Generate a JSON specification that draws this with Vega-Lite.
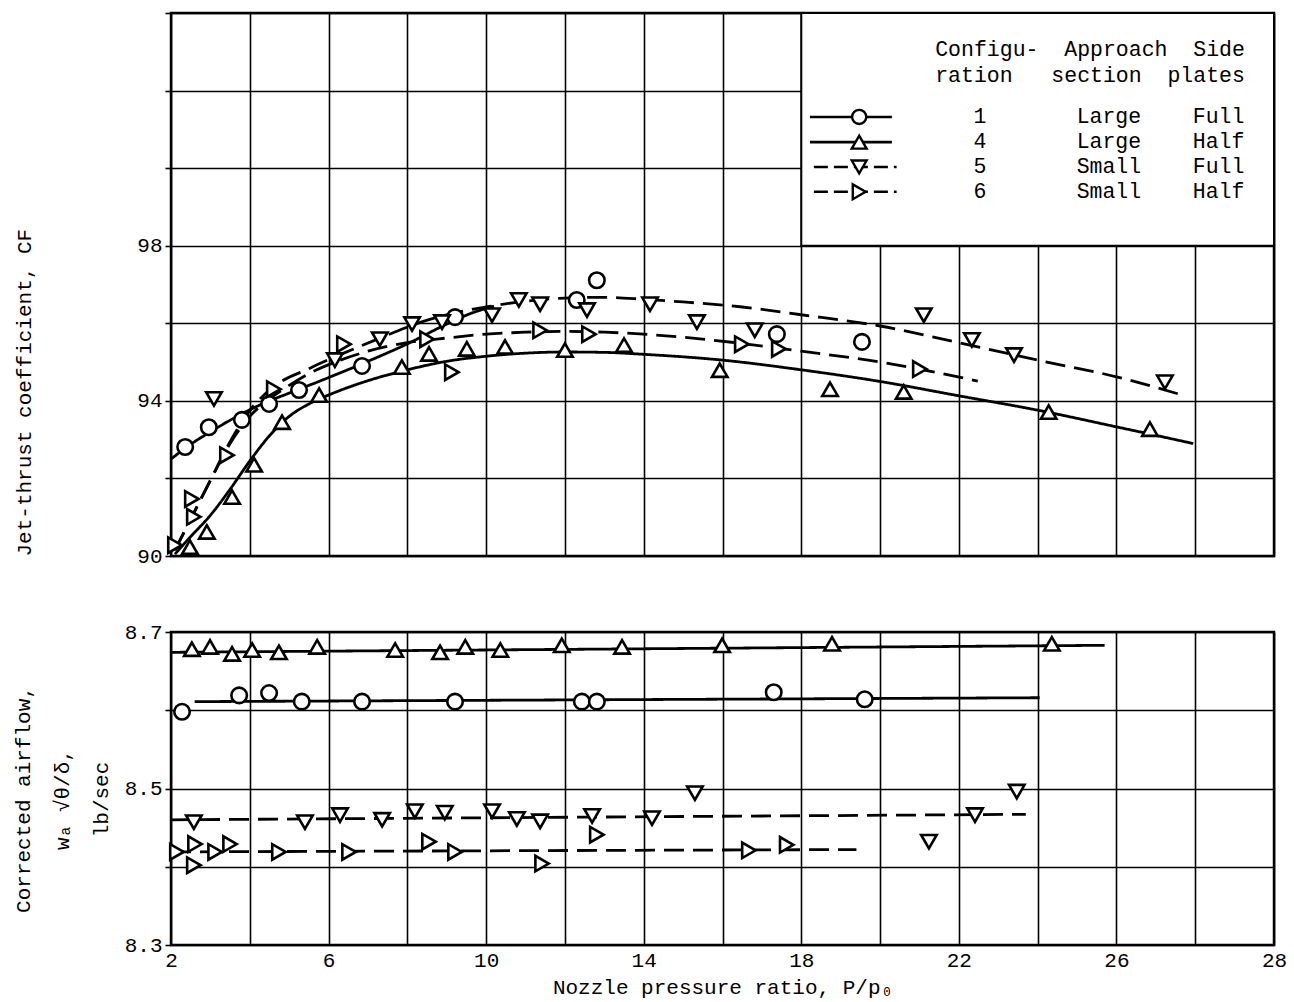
{
  "$schema": "https://vega.github.io/schema/vega-lite/v6.json",
  "padding": {"left": 10, "top": 0, "right": 5, "bottom": 5},
  "background": "white",
  "config": {
    "font": "Liberation Mono",
    "view": {"stroke": "black", "strokeWidth": 2.5},
    "axis": {
      "labelFont": "Liberation Mono", "labelFontSize": 21, "labelColor": "black",
      "titleFont": "Liberation Mono", "titleFontSize": 21, "titleFontWeight": "normal", "titleColor": "black",
      "gridColor": "black", "gridOpacity": 1, "gridWidth": 1.6,
      "tickColor": "black", "tickWidth": 1.6, "domain": false, "labelPadding": 3
    }
  },
  "datasets": {
    "cf_points": [
      {"config": "1", "p": 2.36, "v": 92.81}, {"config": "1", "p": 2.96, "v": 93.32}, {"config": "1", "p": 3.80, "v": 93.51},
      {"config": "1", "p": 4.49, "v": 93.92}, {"config": "1", "p": 5.25, "v": 94.28}, {"config": "1", "p": 6.85, "v": 94.90},
      {"config": "1", "p": 9.21, "v": 96.16}, {"config": "1", "p": 12.30, "v": 96.60}, {"config": "1", "p": 12.81, "v": 97.11},
      {"config": "1", "p": 17.38, "v": 95.72}, {"config": "1", "p": 19.54, "v": 95.52},
      {"config": "4", "p": 2.48, "v": 90.23}, {"config": "4", "p": 2.91, "v": 90.62}, {"config": "4", "p": 3.55, "v": 91.52},
      {"config": "4", "p": 4.11, "v": 92.35}, {"config": "4", "p": 4.82, "v": 93.45}, {"config": "4", "p": 5.76, "v": 94.15},
      {"config": "4", "p": 7.86, "v": 94.87}, {"config": "4", "p": 8.55, "v": 95.21}, {"config": "4", "p": 9.51, "v": 95.34},
      {"config": "4", "p": 10.48, "v": 95.39}, {"config": "4", "p": 12.0, "v": 95.31}, {"config": "4", "p": 13.5, "v": 95.44},
      {"config": "4", "p": 15.93, "v": 94.79}, {"config": "4", "p": 18.73, "v": 94.30}, {"config": "4", "p": 20.60, "v": 94.23},
      {"config": "4", "p": 24.28, "v": 93.71}, {"config": "4", "p": 26.85, "v": 93.27},
      {"config": "5", "p": 3.09, "v": 94.05}, {"config": "5", "p": 6.16, "v": 95.05}, {"config": "5", "p": 7.30, "v": 95.59},
      {"config": "5", "p": 8.12, "v": 95.98}, {"config": "5", "p": 8.88, "v": 96.03}, {"config": "5", "p": 10.15, "v": 96.21},
      {"config": "5", "p": 10.83, "v": 96.60}, {"config": "5", "p": 11.37, "v": 96.49}, {"config": "5", "p": 12.56, "v": 96.34},
      {"config": "5", "p": 14.16, "v": 96.49}, {"config": "5", "p": 15.35, "v": 96.03}, {"config": "5", "p": 16.82, "v": 95.82},
      {"config": "5", "p": 21.11, "v": 96.21}, {"config": "5", "p": 22.33, "v": 95.57}, {"config": "5", "p": 23.40, "v": 95.18},
      {"config": "5", "p": 27.23, "v": 94.48},
      {"config": "6", "p": 2.10, "v": 90.28}, {"config": "6", "p": 2.58, "v": 91.01}, {"config": "6", "p": 2.53, "v": 91.47},
      {"config": "6", "p": 3.42, "v": 92.60}, {"config": "6", "p": 4.61, "v": 94.30}, {"config": "6", "p": 6.39, "v": 95.46},
      {"config": "6", "p": 8.50, "v": 95.59}, {"config": "6", "p": 9.13, "v": 94.74}, {"config": "6", "p": 11.37, "v": 95.82},
      {"config": "6", "p": 12.61, "v": 95.72}, {"config": "6", "p": 16.49, "v": 95.46}, {"config": "6", "p": 17.43, "v": 95.34},
      {"config": "6", "p": 21.01, "v": 94.82}
    ],
    "cf_curves": [
      {"config": "1", "p": 2.0, "v": 92.5}, {"config": "1", "p": 2.5, "v": 92.88}, {"config": "1", "p": 3.0, "v": 93.2},
      {"config": "1", "p": 3.5, "v": 93.5}, {"config": "1", "p": 4.0, "v": 93.77}, {"config": "1", "p": 4.5, "v": 94.0},
      {"config": "1", "p": 5.0, "v": 94.2}, {"config": "1", "p": 6.0, "v": 94.6}, {"config": "1", "p": 7.0, "v": 95.02},
      {"config": "1", "p": 8.0, "v": 95.47}, {"config": "1", "p": 9.0, "v": 95.98}, {"config": "1", "p": 9.6, "v": 96.25},
      {"config": "1", "p": 10.2, "v": 96.44},
      {"config": "4", "p": 2.1, "v": 90.05}, {"config": "4", "p": 2.5, "v": 90.5}, {"config": "4", "p": 3.0, "v": 91.05},
      {"config": "4", "p": 3.5, "v": 91.72}, {"config": "4", "p": 4.0, "v": 92.45}, {"config": "4", "p": 4.5, "v": 93.1},
      {"config": "4", "p": 5.0, "v": 93.6}, {"config": "4", "p": 5.5, "v": 93.92}, {"config": "4", "p": 6.0, "v": 94.15},
      {"config": "4", "p": 7.0, "v": 94.52}, {"config": "4", "p": 8.0, "v": 94.8}, {"config": "4", "p": 9.0, "v": 95.02},
      {"config": "4", "p": 10.0, "v": 95.15}, {"config": "4", "p": 11.0, "v": 95.23}, {"config": "4", "p": 12.0, "v": 95.26},
      {"config": "4", "p": 13.0, "v": 95.25}, {"config": "4", "p": 14.0, "v": 95.2}, {"config": "4", "p": 16.0, "v": 95.05},
      {"config": "4", "p": 18.0, "v": 94.8}, {"config": "4", "p": 20.0, "v": 94.5}, {"config": "4", "p": 22.0, "v": 94.13},
      {"config": "4", "p": 24.0, "v": 93.76}, {"config": "4", "p": 26.0, "v": 93.33}, {"config": "4", "p": 27.95, "v": 92.9},
      {"config": "5", "p": 2.1, "v": 90.15}, {"config": "5", "p": 2.5, "v": 90.95}, {"config": "5", "p": 3.0, "v": 91.95},
      {"config": "5", "p": 3.5, "v": 92.95}, {"config": "5", "p": 4.0, "v": 93.75}, {"config": "5", "p": 4.6, "v": 94.36},
      {"config": "5", "p": 5.5, "v": 94.83}, {"config": "5", "p": 6.5, "v": 95.28}, {"config": "5", "p": 7.5, "v": 95.7},
      {"config": "5", "p": 8.2, "v": 95.98}, {"config": "5", "p": 9.0, "v": 96.22}, {"config": "5", "p": 10.0, "v": 96.42},
      {"config": "5", "p": 11.0, "v": 96.57}, {"config": "5", "p": 12.0, "v": 96.65}, {"config": "5", "p": 13.0, "v": 96.67},
      {"config": "5", "p": 14.0, "v": 96.62}, {"config": "5", "p": 15.0, "v": 96.55}, {"config": "5", "p": 16.5, "v": 96.42},
      {"config": "5", "p": 18.0, "v": 96.22}, {"config": "5", "p": 20.0, "v": 95.93}, {"config": "5", "p": 22.0, "v": 95.5},
      {"config": "5", "p": 24.0, "v": 95.05}, {"config": "5", "p": 26.0, "v": 94.62}, {"config": "5", "p": 27.57, "v": 94.18},
      {"config": "6", "p": 2.1, "v": 90.15}, {"config": "6", "p": 2.5, "v": 90.95}, {"config": "6", "p": 3.0, "v": 91.95},
      {"config": "6", "p": 3.5, "v": 92.9}, {"config": "6", "p": 4.0, "v": 93.6}, {"config": "6", "p": 4.5, "v": 94.05},
      {"config": "6", "p": 5.0, "v": 94.4}, {"config": "6", "p": 5.5, "v": 94.7}, {"config": "6", "p": 6.3, "v": 95.05},
      {"config": "6", "p": 7.0, "v": 95.28}, {"config": "6", "p": 8.0, "v": 95.5}, {"config": "6", "p": 9.0, "v": 95.62},
      {"config": "6", "p": 10.0, "v": 95.72}, {"config": "6", "p": 11.0, "v": 95.77}, {"config": "6", "p": 12.0, "v": 95.79},
      {"config": "6", "p": 13.0, "v": 95.77}, {"config": "6", "p": 14.0, "v": 95.72}, {"config": "6", "p": 15.0, "v": 95.64},
      {"config": "6", "p": 16.5, "v": 95.48}, {"config": "6", "p": 18.0, "v": 95.28}, {"config": "6", "p": 20.0, "v": 95.0},
      {"config": "6", "p": 22.48, "v": 94.51}
    ],
    "wa_points": [
      {"config": "4", "p": 2.53, "v": 8.678}, {"config": "4", "p": 2.99, "v": 8.681}, {"config": "4", "p": 3.55, "v": 8.672},
      {"config": "4", "p": 4.06, "v": 8.677}, {"config": "4", "p": 4.74, "v": 8.674}, {"config": "4", "p": 5.71, "v": 8.681},
      {"config": "4", "p": 7.69, "v": 8.677}, {"config": "4", "p": 8.83, "v": 8.674}, {"config": "4", "p": 9.47, "v": 8.681},
      {"config": "4", "p": 10.36, "v": 8.677}, {"config": "4", "p": 11.92, "v": 8.683}, {"config": "4", "p": 13.45, "v": 8.681},
      {"config": "4", "p": 15.99, "v": 8.683}, {"config": "4", "p": 18.78, "v": 8.685}, {"config": "4", "p": 24.36, "v": 8.685},
      {"config": "1", "p": 2.28, "v": 8.598}, {"config": "1", "p": 3.73, "v": 8.619}, {"config": "1", "p": 4.49, "v": 8.622},
      {"config": "1", "p": 5.32, "v": 8.611}, {"config": "1", "p": 6.85, "v": 8.611}, {"config": "1", "p": 9.21, "v": 8.611},
      {"config": "1", "p": 12.43, "v": 8.611}, {"config": "1", "p": 12.81, "v": 8.611}, {"config": "1", "p": 17.3, "v": 8.623},
      {"config": "1", "p": 19.61, "v": 8.614},
      {"config": "5", "p": 2.58, "v": 8.457}, {"config": "5", "p": 5.40, "v": 8.457}, {"config": "5", "p": 6.29, "v": 8.466},
      {"config": "5", "p": 7.36, "v": 8.460}, {"config": "5", "p": 8.19, "v": 8.471}, {"config": "5", "p": 8.95, "v": 8.469},
      {"config": "5", "p": 10.15, "v": 8.471}, {"config": "5", "p": 10.78, "v": 8.461}, {"config": "5", "p": 11.37, "v": 8.458},
      {"config": "5", "p": 12.69, "v": 8.465}, {"config": "5", "p": 14.21, "v": 8.462}, {"config": "5", "p": 15.30, "v": 8.494},
      {"config": "5", "p": 21.24, "v": 8.432}, {"config": "5", "p": 22.41, "v": 8.466}, {"config": "5", "p": 23.47, "v": 8.496},
      {"config": "6", "p": 2.15, "v": 8.419}, {"config": "6", "p": 2.61, "v": 8.429}, {"config": "6", "p": 2.58, "v": 8.402},
      {"config": "6", "p": 3.12, "v": 8.419}, {"config": "6", "p": 3.50, "v": 8.429}, {"config": "6", "p": 4.74, "v": 8.419},
      {"config": "6", "p": 6.52, "v": 8.419}, {"config": "6", "p": 8.55, "v": 8.432}, {"config": "6", "p": 9.21, "v": 8.419},
      {"config": "6", "p": 11.42, "v": 8.404}, {"config": "6", "p": 12.81, "v": 8.441}, {"config": "6", "p": 16.67, "v": 8.421},
      {"config": "6", "p": 17.63, "v": 8.428}
    ],
    "wa_curves": [
      {"config": "1", "p": 2.6, "v": 8.611}, {"config": "1", "p": 24.05, "v": 8.616},
      {"config": "4", "p": 2.0, "v": 8.674}, {"config": "4", "p": 25.7, "v": 8.683},
      {"config": "5", "p": 2.0, "v": 8.460}, {"config": "5", "p": 23.7, "v": 8.467},
      {"config": "6", "p": 2.0, "v": 8.419}, {"config": "6", "p": 19.4, "v": 8.422}
    ]
  },
  "spacing": 76,
  "bounds": "flush",
  "resolve": {
    "scale": {"shape": "independent", "strokeDash": "independent"},
    "legend": {"shape": "independent", "strokeDash": "independent"}
  },
  "vconcat": [
    {
      "width": 1103,
      "height": 543,
      "layer": [
        {
          "data": {"values": [{}]},
          "mark": {"type": "rect", "fill": "white", "stroke": "black", "strokeWidth": 2},
          "encoding": {
            "x": {"datum": 18, "type": "quantitative"},
            "x2": {"datum": 30},
            "y": {"datum": 98, "type": "quantitative"},
            "y2": {"datum": 104}
          }
        },
        {
          "data": {"name": "cf_curves"},
          "mark": {"type": "line", "interpolate": "monotone", "color": "black", "strokeWidth": 2.8},
          "encoding": {
            "x": {
              "field": "p", "type": "quantitative",
              "scale": {"domain": [2, 30], "nice": false, "zero": false},
              "axis": {"values": [2, 4, 6, 8, 10, 12, 14, 16, 18, 20, 22, 24, 26, 28, 30], "grid": true, "labels": false, "ticks": false, "title": null}
            },
            "y": {
              "field": "v", "type": "quantitative",
              "scale": {"domain": [90, 104], "nice": false, "zero": false},
              "axis": {
                "values": [90, 92, 94, 96, 98, 100, 102, 104], "grid": true, "tickSize": 6,
                "labelExpr": "datum.value == 90 || datum.value == 94 || datum.value == 98 ? datum.label : ''",
                "labelFlush": false, "labelOverlap": false,
                "title": "Jet-thrust coefficient, CF", "titleAnchor": "start", "titlePadding": 102
              }
            },
            "detail": {"field": "config", "type": "nominal"},
            "strokeDash": {
              "field": "config", "type": "nominal",
              "scale": {"domain": ["1", "4", "5", "6"], "range": [[1, 0], [1, 0], [20, 9], [20, 9]]},
              "legend": null
            }
          }
        },
        {
          "data": {"name": "cf_points"},
          "mark": {"type": "point", "filled": true, "fill": "white", "stroke": "black", "strokeWidth": 2.6, "opacity": 1, "size": 240},
          "encoding": {
            "x": {"field": "p", "type": "quantitative"},
            "y": {"field": "v", "type": "quantitative"},
            "shape": {
              "field": "config", "type": "nominal",
              "scale": {"domain": ["1", "4", "5", "6"], "range": ["circle", "triangle-up", "triangle-down", "triangle-right"]},
              "legend": null
            }
          }
        },
        {
          "data": {"values": [{}]},
          "mark": {"type": "rule", "color": "black", "strokeWidth": 2.6},
          "encoding": {"x": {"datum": 18.22, "type": "quantitative"}, "x2": {"datum": 20.3}, "y": {"datum": 101.32, "type": "quantitative"}}
        },
        {
          "data": {"values": [{}]},
          "mark": {"type": "rule", "color": "black", "strokeWidth": 2.6},
          "encoding": {"x": {"datum": 18.22, "type": "quantitative"}, "x2": {"datum": 20.3}, "y": {"datum": 100.67, "type": "quantitative"}}
        },
        {
          "data": {"values": [{}]},
          "mark": {"type": "rule", "color": "black", "strokeWidth": 2.6, "strokeDash": [14, 6]},
          "encoding": {"x": {"datum": 18.32, "type": "quantitative"}, "x2": {"datum": 20.42}, "y": {"datum": 100.03, "type": "quantitative"}}
        },
        {
          "data": {"values": [{}]},
          "mark": {"type": "rule", "color": "black", "strokeWidth": 2.6, "strokeDash": [14, 6]},
          "encoding": {"x": {"datum": 18.32, "type": "quantitative"}, "x2": {"datum": 20.42}, "y": {"datum": 99.39, "type": "quantitative"}}
        },
        {
          "data": {"values": [{}]},
          "mark": {"type": "point", "shape": "circle", "filled": true, "fill": "white", "stroke": "black", "strokeWidth": 2.4, "opacity": 1, "size": 200},
          "encoding": {"x": {"datum": 19.47, "type": "quantitative"}, "y": {"datum": 101.32, "type": "quantitative"}}
        },
        {
          "data": {"values": [{}]},
          "mark": {"type": "point", "shape": "triangle-up", "filled": true, "fill": "white", "stroke": "black", "strokeWidth": 2.4, "opacity": 1, "size": 220},
          "encoding": {"x": {"datum": 19.47, "type": "quantitative"}, "y": {"datum": 100.67, "type": "quantitative"}}
        },
        {
          "data": {"values": [{}]},
          "mark": {"type": "point", "shape": "triangle-down", "filled": true, "fill": "white", "stroke": "black", "strokeWidth": 2.4, "opacity": 1, "size": 220},
          "encoding": {"x": {"datum": 19.47, "type": "quantitative"}, "y": {"datum": 100.03, "type": "quantitative"}}
        },
        {
          "data": {"values": [{}]},
          "mark": {"type": "point", "shape": "triangle-right", "filled": true, "fill": "white", "stroke": "black", "strokeWidth": 2.4, "opacity": 1, "size": 220},
          "encoding": {"x": {"datum": 19.47, "type": "quantitative"}, "y": {"datum": 99.39, "type": "quantitative"}}
        },
        {
          "data": {"values": [{}]},
          "mark": {"type": "text", "align": "left", "baseline": "middle", "font": "Liberation Mono", "fontSize": 21.5, "lineHeight": 26, "color": "black"},
          "encoding": {
            "x": {"datum": 21.4, "type": "quantitative"},
            "y": {"datum": 103.046, "type": "quantitative"},
            "text": {"value": ["Configu-\u00a0\u00a0Approach\u00a0\u00a0Side", "\u00a0ration\u00a0\u00a0\u00a0section\u00a0\u00a0plates"]}
          }
        },
        {
          "data": {"values": [{}]},
          "mark": {"type": "text", "align": "left", "baseline": "middle", "font": "Liberation Mono", "fontSize": 21.5, "lineHeight": 25, "color": "black"},
          "encoding": {
            "x": {"datum": 22.37, "type": "quantitative"},
            "y": {"datum": 101.32, "type": "quantitative"},
            "text": {"value": [
              "1\u00a0\u00a0\u00a0\u00a0\u00a0\u00a0\u00a0Large\u00a0\u00a0\u00a0\u00a0Full",
              "4\u00a0\u00a0\u00a0\u00a0\u00a0\u00a0\u00a0Large\u00a0\u00a0\u00a0\u00a0Half",
              "5\u00a0\u00a0\u00a0\u00a0\u00a0\u00a0\u00a0Small\u00a0\u00a0\u00a0\u00a0Full",
              "6\u00a0\u00a0\u00a0\u00a0\u00a0\u00a0\u00a0Small\u00a0\u00a0\u00a0\u00a0Half"
            ]}
          }
        }
      ]
    },
    {
      "width": 1103,
      "height": 313,
      "layer": [
        {
          "data": {"name": "wa_curves"},
          "mark": {"type": "line", "color": "black", "strokeWidth": 2.8},
          "encoding": {
            "x": {
              "field": "p", "type": "quantitative",
              "scale": {"domain": [2, 30], "nice": false, "zero": false},
              "axis": {
                "values": [2, 4, 6, 8, 10, 12, 14, 16, 18, 20, 22, 24, 26, 28, 30], "grid": true, "ticks": false,
                "labelExpr": "(datum.value - 2) % 4 == 0 ? (datum.value == 30 ? '28' : datum.label) : ''",
                "labelFlush": false, "labelOverlap": false, "labelPadding": 4,
                "title": "Nozzle pressure ratio, P/p\u2080", "titlePadding": 6
              }
            },
            "y": {
              "field": "v", "type": "quantitative",
              "scale": {"domain": [8.3, 8.7], "nice": false, "zero": false},
              "axis": {
                "values": [8.3, 8.4, 8.5, 8.6, 8.7], "format": ".1f", "grid": true, "tickSize": 6,
                "labelExpr": "datum.value < 8.35 || (datum.value > 8.45 && datum.value < 8.55) || datum.value > 8.65 ? datum.label : ''",
                "labelFlush": false, "labelOverlap": false,
                "title": ["Corrected airflow,", "w\u2090 \u221a\u03b8/\u03b4,", "lb/sec"],
                "titleLineHeight": 39, "titlePadding": 13, "titleY": 167
              }
            },
            "detail": {"field": "config", "type": "nominal"},
            "strokeDash": {
              "field": "config", "type": "nominal",
              "scale": {"domain": ["1", "4", "5", "6"], "range": [[1, 0], [1, 0], [20, 9], [20, 9]]},
              "legend": null
            }
          }
        },
        {
          "data": {"name": "wa_points"},
          "mark": {"type": "point", "filled": true, "fill": "white", "stroke": "black", "strokeWidth": 2.6, "opacity": 1, "size": 240},
          "encoding": {
            "x": {"field": "p", "type": "quantitative"},
            "y": {"field": "v", "type": "quantitative"},
            "shape": {
              "field": "config", "type": "nominal",
              "scale": {"domain": ["1", "4", "5", "6"], "range": ["circle", "triangle-up", "triangle-down", "triangle-right"]},
              "legend": null
            }
          }
        }
      ]
    }
  ]
}
